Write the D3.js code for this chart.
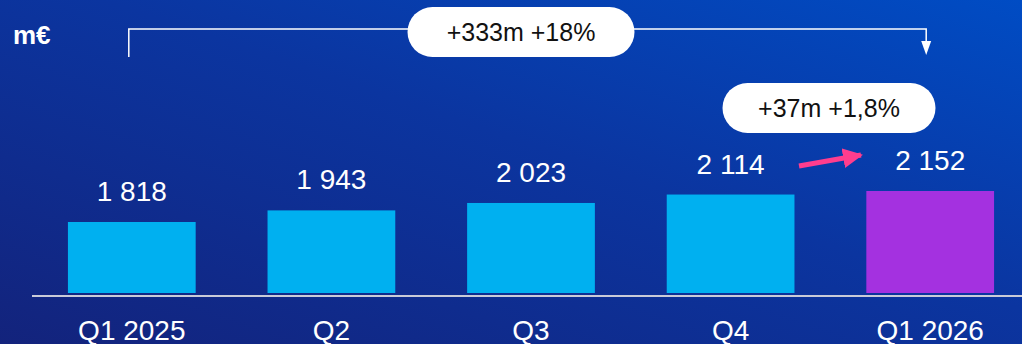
<!DOCTYPE html>
<html>
<head>
<meta charset="utf-8">
<script src="https://cdn.jsdelivr.net/npm/d3@7"></script>
<style>
  html, body { margin: 0; padding: 0; overflow: hidden; }
  svg { display: block; font-family: Arial, "Liberation Sans", sans-serif; }
</style>
</head>
<body>
<div id="chart"></div>
<script>
const quarters = ['Q1 2025', 'Q2', 'Q3', 'Q4', 'Q1 2026'];
const revenue = [1818, 1943, 2023, 2114, 2152];
const valueLabels = ['1 818', '1 943', '2 023', '2 114', '2 152'];
const yearChange = '+333m +18%';
const quarterChange = '+37m +1,8%';
const unit = 'm€';

const width = 1022;
const height = 344;

const svg = d3.select('#chart')
  .append('svg')
  .attr('width', width)
  .attr('height', height);

const defs = svg.append('defs');
const grad = defs.append('linearGradient')
  .attr('id', 'bg')
  .attr('x1', '0%').attr('y1', '100%')
  .attr('x2', '100%').attr('y2', '0%');
grad.append('stop').attr('offset', '0%').attr('stop-color', '#13237c');
grad.append('stop').attr('offset', '55%').attr('stop-color', '#0b35a0');
grad.append('stop').attr('offset', '100%').attr('stop-color', '#004cc4');

defs.append('marker')
  .attr('id', 'pinkHead')
  .attr('viewBox', '0 0 10 10')
  .attr('refX', 9).attr('refY', 5)
  .attr('markerWidth', 4).attr('markerHeight', 4)
  .attr('markerUnits', 'strokeWidth')
  .attr('orient', 'auto')
  .append('path')
  .attr('d', 'M0,0L10,5L0,10Z')
  .attr('fill', '#ff3d8e');

svg.append('rect')
  .attr('width', width)
  .attr('height', height)
  .attr('fill', 'url(#bg)');

const x = d3.scaleBand()
  .domain(quarters)
  .range([32, 1030])
  .paddingInner(0.36)
  .paddingOuter(0.18);

const y = d3.scaleLinear()
  .domain([1053, 2152])
  .range([293, 191]);

// bars
svg.append('g')
  .selectAll('rect')
  .data(revenue)
  .join('rect')
  .attr('x', (d, i) => x(quarters[i]))
  .attr('y', (d) => y(d))
  .attr('width', x.bandwidth())
  .attr('height', (d) => y.range()[0] - y(d))
  .attr('fill', (d, i) => (i === quarters.length - 1 ? '#a431e0' : '#00b0f0'));

// value labels
svg.append('g')
  .selectAll('text')
  .data(revenue)
  .join('text')
  .attr('x', (d, i) => x(quarters[i]) + x.bandwidth() / 2)
  .attr('y', (d) => y(d) - 21)
  .attr('text-anchor', 'middle')
  .attr('fill', '#ffffff')
  .style('font-size', '28px')
  .text((d, i) => valueLabels[i]);

// baseline
svg.append('line')
  .attr('x1', 32).attr('x2', width)
  .attr('y1', 296).attr('y2', 296)
  .attr('stroke', '#c9cbd8')
  .attr('stroke-width', 2);

// category axis
const xAxis = d3.axisBottom(x).tickSize(0).tickPadding(0);
const axisG = svg.append('g')
  .attr('transform', 'translate(0, 318)')
  .call(xAxis);
axisG.select('.domain').remove();
axisG.selectAll('text')
  .attr('fill', '#ffffff')
  .attr('dy', '0.78em')
  .style('font-size', '28px')
  .style('font-family', 'Arial, "Liberation Sans", sans-serif');

// unit label
svg.append('text')
  .attr('x', 13).attr('y', 44)
  .attr('fill', '#ffffff')
  .style('font-size', '26px')
  .style('font-weight', 'bold')
  .text(unit);

// year-over-year bracket
const xa = x(quarters[0]) + x.bandwidth() / 2 - 3;
const xb = x(quarters[4]) + x.bandwidth() / 2 - 4;
svg.append('path')
  .attr('d', `M${xa},57V29H${xb}V42`)
  .attr('fill', 'none')
  .attr('stroke', '#ffffff')
  .attr('stroke-width', 1.5);
svg.append('path')
  .attr('d', `M${xb - 5},41L${xb + 5},41L${xb},55Z`)
  .attr('fill', '#ffffff');

function pill(cx, cy, w, h, label) {
  svg.append('rect')
    .attr('x', cx - w / 2).attr('y', cy - h / 2)
    .attr('width', w).attr('height', h)
    .attr('rx', h / 2)
    .attr('fill', '#ffffff');
  svg.append('text')
    .attr('x', cx).attr('y', cy + 9)
    .attr('text-anchor', 'middle')
    .attr('fill', '#111111')
    .style('font-size', '25px')
    .text(label);
}

pill(521, 32, 227, 50, yearChange);
pill(829, 108, 213, 50, quarterChange);

// pink arrow Q4 -> Q1 2026
svg.append('line')
  .attr('x1', 799).attr('y1', 166)
  .attr('x2', 861).attr('y2', 155)
  .attr('stroke', '#ff3d8e')
  .attr('stroke-width', 5)
  .attr('marker-end', 'url(#pinkHead)');
</script>
</body>
</html>
